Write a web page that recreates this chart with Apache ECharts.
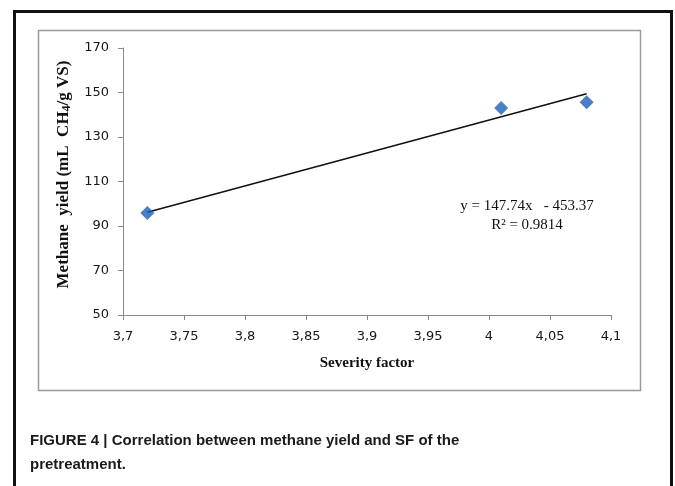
<!DOCTYPE html>
<html><head><meta charset="utf-8">
<script src="https://cdn.jsdelivr.net/npm/echarts@6/dist/echarts.min.js"></script>
<style>html,body{margin:0;padding:0;background:#fff}#c{width:675px;height:486px}</style>
</head><body><div id="c"></div>
<script>
var severity = [3.72, 4.01, 4.08];
var methaneYield = [95.8, 143.0, 145.6];
var trendX = [3.72, 4.08];
var trendY = [96.2, 149.4];
var xTicks = [3.7, 3.75, 3.8, 3.85, 3.9, 3.95, 4, 4.05, 4.1];
var yTicks = [50, 70, 90, 110, 130, 150, 170];

var chart = echarts.init(document.getElementById('c'));
var pts = severity.map(function(x,i){return [x, methaneYield[i]];});
var trend = trendX.map(function(x,i){return [x, trendY[i]];});
chart.setOption({
  animation:false,
  grid:{left:123,right:64,top:48,bottom:171},
  xAxis:{type:'value',min:3.7,max:4.1,interval:0.05,
    axisLine:{lineStyle:{color:'#8a8a8a'}},axisTick:{show:true,length:5,lineStyle:{color:'#8a8a8a'}},
    splitLine:{show:false},
    axisLabel:{color:'#151520',fontFamily:'DejaVu Sans',fontSize:13,margin:15,
      formatter:function(v){return String(+v.toFixed(2)).replace('.',',');}},
    name:'Severity factor',nameLocation:'middle',nameGap:41,
    nameTextStyle:{fontFamily:'Liberation Serif',fontWeight:'bold',fontSize:15,color:'#111'}},
  yAxis:{type:'value',min:50,max:170,interval:20,
    axisLine:{show:true,lineStyle:{color:'#8a8a8a'}},axisTick:{show:true,length:5,lineStyle:{color:'#8a8a8a'}},
    splitLine:{show:false},
    axisLabel:{color:'#151520',fontFamily:'DejaVu Sans',fontSize:13,margin:14},
    name:'{a|Methane  yield (mL  CH}{s|4}{a|/g VS)}',nameLocation:'middle',nameGap:45,
    nameTextStyle:{padding:[0,0,0,14],rich:{a:{fontFamily:'Liberation Serif',fontWeight:'bold',fontSize:17,color:'#111'},
      s:{fontFamily:'Liberation Serif',fontWeight:'bold',fontSize:12,color:'#111',verticalAlign:'bottom',padding:[7,0,0,0]}}}},
  series:[
    {type:'line',data:trend,symbol:'none',lineStyle:{color:'#111',width:1.5},z:2},
    {type:'scatter',data:pts,symbol:'diamond',symbolSize:14,itemStyle:{color:'#1d5fb4'},z:3}
  ],
  graphic:[
    {type:'rect',shape:{x:14.5,y:11.5,width:657,height:500},style:{fill:'none',stroke:'#111',lineWidth:3},silent:true,z:-10},
    {type:'rect',shape:{x:38.5,y:30.5,width:602,height:360},style:{fill:'none',stroke:'#9a9a9a',lineWidth:1.5},silent:true,z:-9},
    {type:'text',x:527,y:206,style:{text:'y = 147.74x   - 453.37',font:'15px "Liberation Serif"',fill:'#111',align:'center',verticalAlign:'middle'}},
    {type:'text',x:527,y:225,style:{text:'R² = 0.9814',font:'15px "Liberation Serif"',fill:'#111',align:'center',verticalAlign:'middle'}},
    {type:'text',x:30,y:441,style:{text:'FIGURE 4 | Correlation between methane yield and SF of the',font:'bold 15px "Liberation Sans"',fill:'#1a1a1a',verticalAlign:'middle'}},
    {type:'text',x:30,y:465,style:{text:'pretreatment.',font:'bold 15px "Liberation Sans"',fill:'#1a1a1a',verticalAlign:'middle'}}
  ]
});
</script></body></html>
